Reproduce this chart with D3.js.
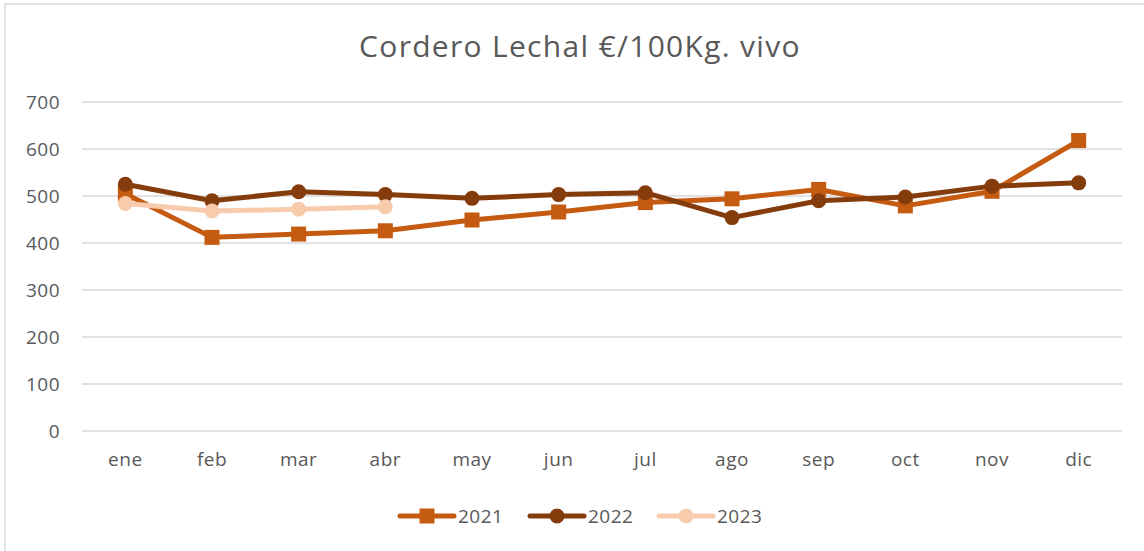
<!DOCTYPE html>
<html>
<head>
<meta charset="utf-8">
<script src="https://cdn.jsdelivr.net/npm/d3@7"></script>
<style>
  body { margin: 0; background: #fff; }
  svg { display: block; }
</style>
</head>
<body>
<div id="chartCt"></div>
<script>
// data
var months = ["ene", "feb", "mar", "abr", "may", "jun", "jul", "ago", "sep", "oct", "nov", "dic"];
var v2021 = [505, 412, 419, 426, 449, 466, 486, 494, 514, 479, 510, 618];
var v2022 = [525, 490, 509, 503, 495, 503, 507, 454, 490, 498, 521, 528];
var v2023 = [484, 468, 472, 477];
var yTicks = [0, 100, 200, 300, 400, 500, 600, 700];

var series = [
    { name: "2021", values: v2021, color: "#C55A11", marker: "square" },
    { name: "2022", values: v2022, color: "#843C0C", marker: "circle" },
    { name: "2023", values: v2023, color: "#F8CBAD", marker: "circle" }
];

var width = 1144, height = 551;
var fontFam = "'Open Sans', Lato, sans-serif";
var textColor = "#595959";

var svg = d3.select("#chartCt")
    .append("svg")
    .attr("width", width)
    .attr("height", height);

// chart area border
svg.append("rect")
    .attr("x", 5)
    .attr("y", 4)
    .attr("width", width + 10)
    .attr("height", height + 10)
    .attr("fill", "none")
    .attr("stroke", "#d9d9d9")
    .attr("stroke-width", 1.5);

svg.append("text")
    .attr("x", 580)
    .attr("y", 57)
    .style("text-anchor", "middle")
    .style("font-family", fontFam)
    .style("font-size", "30px")
    .style("letter-spacing", "1.3px")
    .style("fill", textColor)
    .text("Cordero Lechal €/100Kg. vivo");

var x = d3.scaleBand().domain(months).range([82, 1122]);
var y = d3.scaleLinear().domain([0, 700]).range([431, 102]);

// gridlines
svg.append("g")
    .selectAll("line")
    .data(yTicks)
    .enter().append("line")
    .attr("x1", 82)
    .attr("x2", 1122)
    .attr("y1", function (d) { return y(d); })
    .attr("y2", function (d) { return y(d); })
    .attr("stroke", "#d9d9d9")
    .attr("stroke-width", 1.3);

// y axis labels
var yAxis = svg.append("g")
    .attr("transform", "translate(66,0)")
    .call(d3.axisLeft(y).tickValues(yTicks).tickSize(0).tickPadding(6));
yAxis.select(".domain").remove();
yAxis.selectAll("text")
    .style("font-family", fontFam)
    .style("font-size", "19px")
    .style("letter-spacing", "0.5px")
    .style("fill", textColor);

// x axis labels
var xAxis = svg.append("g")
    .attr("transform", "translate(0,446)")
    .call(d3.axisBottom(x).tickSize(0).tickPadding(7));
xAxis.select(".domain").remove();
xAxis.selectAll("text")
    .style("font-family", fontFam)
    .style("font-size", "19px")
    .style("letter-spacing", "0.5px")
    .style("fill", textColor);

var line = d3.line()
    .x(function (d, i) { return x(months[i]) + x.bandwidth() / 2; })
    .y(function (d) { return y(d); });

function drawMarker(g, s, cx, cy) {
    if (s.marker === "square") {
        g.append("rect")
            .attr("x", cx - 7.5).attr("y", cy - 7.5)
            .attr("width", 15).attr("height", 15)
            .attr("fill", s.color);
    } else {
        g.append("circle")
            .attr("cx", cx).attr("cy", cy).attr("r", 7.5)
            .attr("fill", s.color);
    }
}

series.forEach(function (s) {
    var g = svg.append("g");
    g.append("path")
        .datum(s.values)
        .attr("d", line)
        .attr("fill", "none")
        .attr("stroke", s.color)
        .attr("stroke-width", 5)
        .attr("stroke-linejoin", "round")
        .attr("stroke-linecap", "round");
    s.values.forEach(function (v, i) {
        drawMarker(g, s, x(months[i]) + x.bandwidth() / 2, y(v));
    });
});

// legend
var legendX = [400, 530, 659];
series.forEach(function (s, i) {
    var g = svg.append("g").attr("transform", "translate(" + legendX[i] + ",516)");
    g.append("line")
        .attr("x1", 0).attr("x2", 54)
        .attr("stroke", s.color)
        .attr("stroke-width", 5)
        .attr("stroke-linecap", "round");
    drawMarker(g, s, 27, 0);
    g.append("text")
        .attr("x", 58)
        .attr("y", 7)
        .style("font-family", fontFam)
        .style("font-size", "19px")
        .style("letter-spacing", "0.5px")
        .style("fill", textColor)
        .text(s.name);
});
</script>
</body>
</html>
